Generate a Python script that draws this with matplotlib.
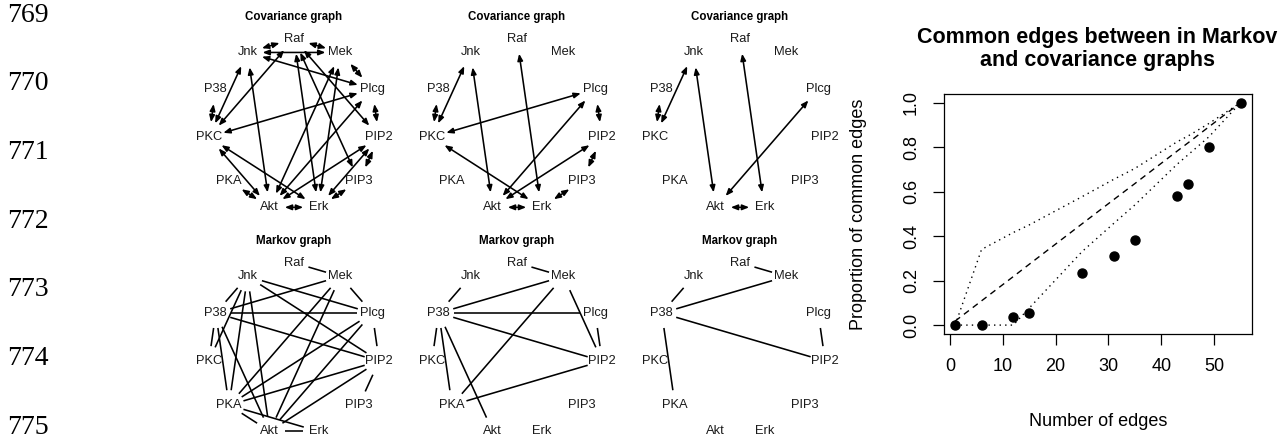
import numpy as np
import matplotlib
matplotlib.use("Agg")
import matplotlib.pyplot as plt

plt.rcParams["font.family"] = ["Liberation Sans", "DejaVu Sans"]

# ---------------------------------------------------------------- data
proteins = ["Raf", "Mek", "Plcg", "PIP2", "PIP3", "Erk", "Akt", "PKA", "PKC", "P38", "Jnk"]

cov_edges_25 = [("Raf", "Jnk"), ("Raf", "Mek"), ("Jnk", "Mek"), ("Jnk", "Plcg"), ("Mek", "Plcg"),
                ("Plcg", "PIP2"), ("PIP2", "PIP3"), ("PIP3", "Erk"), ("Akt", "Erk"), ("PKA", "Akt"),
                ("P38", "PKC"), ("Jnk", "PKC"), ("Raf", "PKC"), ("Plcg", "PKC"), ("Jnk", "Akt"),
                ("PKC", "Erk"), ("Raf", "Erk"), ("Raf", "PIP3"), ("Raf", "PIP2"), ("Mek", "Akt"),
                ("Mek", "Erk"), ("Plcg", "Akt"), ("PIP2", "Akt"), ("PIP2", "Erk"), ("PKC", "Akt")]
cov_edges_12 = [("P38", "PKC"), ("Jnk", "PKC"), ("Jnk", "Akt"), ("Raf", "Erk"), ("Plcg", "PKC"),
                ("Plcg", "Akt"), ("Plcg", "PIP2"), ("PKC", "Erk"), ("Akt", "Erk"), ("PIP2", "Akt"),
                ("PIP2", "PIP3"), ("PIP3", "Erk")]
cov_edges_6 = [("P38", "PKC"), ("Jnk", "PKC"), ("Jnk", "Akt"), ("Raf", "Erk"), ("Plcg", "Akt"),
               ("Akt", "Erk")]

markov_edges_25 = [("Raf", "Mek"), ("Jnk", "P38"), ("Jnk", "Plcg"), ("Jnk", "PIP2"), ("Mek", "P38"),
                   ("P38", "Plcg"), ("P38", "PIP2"), ("Mek", "Plcg"), ("Plcg", "PIP2"), ("PIP2", "PIP3"),
                   ("Akt", "Erk"), ("PKA", "Akt"), ("PKA", "Erk"), ("P38", "PKC"), ("P38", "PKA"),
                   ("P38", "Akt"), ("Jnk", "PKC"), ("Jnk", "PKA"), ("Jnk", "Akt"), ("Mek", "PKA"),
                   ("Mek", "Akt"), ("Plcg", "PKA"), ("Plcg", "Akt"), ("PIP2", "PKA"), ("PIP2", "Akt")]
markov_edges_12 = [("Raf", "Mek"), ("Jnk", "P38"), ("P38", "Mek"), ("P38", "Plcg"), ("P38", "PIP2"),
                   ("Mek", "PKA"), ("Mek", "PIP2"), ("Plcg", "PIP2"), ("P38", "PKC"), ("P38", "PKA"),
                   ("P38", "Akt"), ("PKA", "PIP2")]
markov_edges_6 = [("Raf", "Mek"), ("Jnk", "P38"), ("P38", "Mek"), ("P38", "PIP2"), ("P38", "PKA"),
                  ("Plcg", "PIP2")]

cov_panels = [cov_edges_25, cov_edges_12, cov_edges_6]
markov_panels = [markov_edges_25, markov_edges_12, markov_edges_6]

n_edges = [1, 6, 12, 15, 25, 31, 35, 43, 45, 49, 55]
prop_common = [0.0, 0.0, 0.036, 0.055, 0.236, 0.309, 0.382, 0.582, 0.636, 0.800, 1.0]
prop_expected = [0.018, 0.109, 0.218, 0.273, 0.455, 0.564, 0.636, 0.782, 0.818, 0.891, 1.0]
prop_upper = [0.0, 0.34, 0.416, 0.45, 0.577, 0.655, 0.704, 0.824, 0.849, 0.906, 1.0]
prop_lower = [0.0, 0.0, 0.0, 0.076, 0.33, 0.457, 0.54, 0.723, 0.764, 0.846, 1.0]

line_numbers = ["769", "770", "771", "772", "773", "774", "775"]

# ---------------------------------------------------------------- figure
W, H = 1281, 444
fig = plt.figure(figsize=(W / 100, H / 100), dpi=100)


def px_axes(left, top, width, height):
    return fig.add_axes([left / W, 1 - (top + height) / H, width / W, height / H])


# circular layout, Raf on top, going clockwise
ang = np.deg2rad(90 - 360.0 / len(proteins) * np.arange(len(proteins)))
layout = {p: np.array([np.cos(a), np.sin(a)]) for p, a in zip(proteins, ang)}

R_PX = 86.0       # circle radius in pixels
HALF = 110.0      # half size of each graph panel in pixels
CLIP = 0.175      # gap left between an edge end and its node label
col_cx = [294, 517, 740]
row_cy = [124.8, 348.8]


def draw_graph(ax, edges, directed, title):
    lim = HALF / R_PX
    ax.set_xlim(-lim, lim)
    ax.set_ylim(-lim, lim)
    ax.axis("off")
    for a, b in edges:
        p, q = layout[a], layout[b]
        u = (q - p) / np.linalg.norm(q - p)
        s, e = p + u * CLIP, q - u * CLIP
        if directed:
            ax.annotate("", xy=e, xytext=s,
                        arrowprops=dict(arrowstyle="<|-|>,head_length=0.4,head_width=0.16",
                                        mutation_scale=10, lw=1.15, color="black",
                                        shrinkA=0, shrinkB=0))
        else:
            ax.plot([s[0], e[0]], [s[1], e[1]], color="black", lw=1.15,
                    solid_capstyle="butt")
    for p in proteins:
        x, y = layout[p]
        ax.text(x, y, p, ha="center", va="center", fontsize=9.3, color="#1a1a1a")
    ax.text(0, 108 / R_PX, title, ha="center", va="center", fontsize=8.3,
            fontweight="bold")


for j in range(3):
    ax = px_axes(col_cx[j] - HALF, row_cy[0] - HALF, 2 * HALF, 2 * HALF)
    draw_graph(ax, cov_panels[j], True, "Covariance graph")
    ax = px_axes(col_cx[j] - HALF, row_cy[1] - HALF, 2 * HALF, 2 * HALF)
    draw_graph(ax, markov_panels[j], False, "Markov graph")

# ---------------------------------------------------------------- proportion plot
ax = px_axes(943.7, 93.7, 308.3, 240.3)
ax.plot(n_edges, prop_upper, color="black", lw=1.0, ls=(0, (1, 3)))
ax.plot(n_edges, prop_lower, color="black", lw=1.0, ls=(0, (1, 3)))
ax.plot(n_edges, prop_expected, color="black", lw=1.0, ls=(0, (4.5, 3.5)))
ax.plot(n_edges, prop_common, "o", color="black", ms=6.5)
ax.set_xlim(-1.16, 57.16)
ax.set_ylim(-0.04, 1.04)
ax.set_xticks(np.arange(0, 51, 10))
ax.set_yticks(np.arange(0, 1.01, 0.2))
ax.set_yticklabels(["%.1f" % v for v in np.arange(0, 1.01, 0.2)], rotation=90, va="center")
ax.tick_params(length=8, width=0.9, labelsize=13, pad=9, color="black")
for sp in ax.spines.values():
    sp.set_linewidth(0.9)
ax.set_xlabel("Number of edges", fontsize=13)
ax.set_ylabel("Proportion of common edges", fontsize=13)
ax.xaxis.set_label_coords(0.5, (334 - 413) / 240.3)
ax.yaxis.set_label_coords((866.7 - 943.7) / 308.3, 0.5)
fig.text(1097 / W, 1 - 49 / H, "Common edges between in Markov\nand covariance graphs",
         ha="center", va="center", fontsize=15.5, fontweight="bold", linespacing=1.12)

# ---------------------------------------------------------------- margin line numbers
for i, s in enumerate(line_numbers):
    fig.text(7 / W, 1 - (15 + i * 68.67) / H, s, ha="left", va="center",
             fontsize=20, family="Liberation Serif")

fig.savefig("out.png", dpi=100)
